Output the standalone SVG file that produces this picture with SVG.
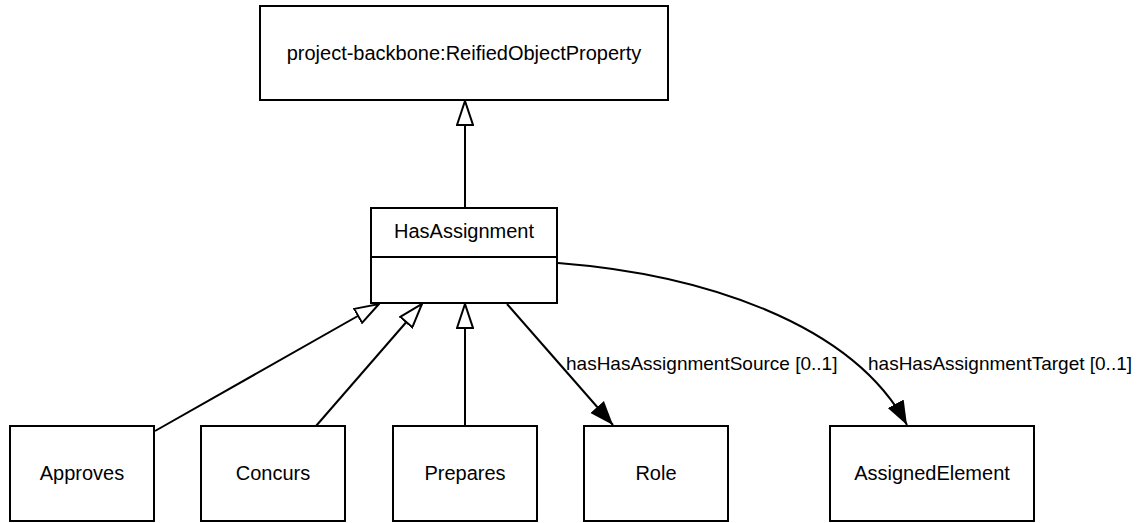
<svg xmlns="http://www.w3.org/2000/svg" width="1137" height="523" viewBox="0 0 1137 523">
<style>
.box{fill:#fff;stroke:#000;stroke-width:2}
.lbl{font-family:"Liberation Sans",Arial,sans-serif;font-size:20px;fill:#000;text-anchor:middle}
.elbl{font-family:"Liberation Sans",Arial,sans-serif;font-size:19px;fill:#000}
.edge{fill:none;stroke:#000;stroke-width:2}
</style>
<defs>
<marker id="gen" viewBox="0 0 26 18" refX="25" refY="9" markerWidth="26" markerHeight="18" markerUnits="userSpaceOnUse" orient="auto">
<path d="M1,1 L25,9 L1,17 Z" fill="#fff" stroke="#000" stroke-width="2"/>
</marker>
<marker id="arr" viewBox="0 0 24 20" refX="24" refY="10" markerWidth="24" markerHeight="20" markerUnits="userSpaceOnUse" orient="auto">
<path d="M0,1 L24,10 L0,19 Z" fill="#000"/>
</marker>
</defs>
<g id="connectors">
<path class="edge" d="M465,208 L465,101" marker-end="url(#gen)"/>
<path class="edge" d="M155,431 L379,304" marker-end="url(#gen)"/>
<path class="edge" d="M316,426 L422,304" marker-end="url(#gen)"/>
<path class="edge" d="M465,426 L465,304" marker-end="url(#gen)"/>
<path class="edge" d="M507,304 L613,425" marker-end="url(#arr)"/>
<path class="edge" d="M558,263 C700,274 852,322 907,425" marker-end="url(#arr)"/>
<text class="elbl" x="566" y="370">hasHasAssignmentSource [0..1]</text>
<text class="elbl" x="868" y="370">hasHasAssignmentTarget [0..1]</text>
</g>
<g id="ReifiedObjectProperty">
<rect class="box" x="260" y="6" width="408" height="94"/>
<text class="lbl" x="464" y="60">project-backbone:ReifiedObjectProperty</text>
</g>
<g id="HasAssignment">
<rect class="box" x="371" y="208" width="186" height="95"/>
<line class="edge" x1="371" y1="257" x2="557" y2="257"/>
<text class="lbl" x="464" y="238">HasAssignment</text>
</g>
<g id="Approves">
<rect class="box" x="10" y="426" width="144" height="95"/>
<text class="lbl" x="82" y="480">Approves</text>
</g>
<g id="Concurs">
<rect class="box" x="201" y="426" width="144" height="95"/>
<text class="lbl" x="273" y="480">Concurs</text>
</g>
<g id="Prepares">
<rect class="box" x="393" y="426" width="144" height="95"/>
<text class="lbl" x="465" y="480">Prepares</text>
</g>
<g id="Role">
<rect class="box" x="584" y="426" width="144" height="95"/>
<text class="lbl" x="656" y="480">Role</text>
</g>
<g id="AssignedElement">
<rect class="box" x="830" y="426" width="204" height="95"/>
<text class="lbl" x="932" y="480">AssignedElement</text>
</g>
</svg>
